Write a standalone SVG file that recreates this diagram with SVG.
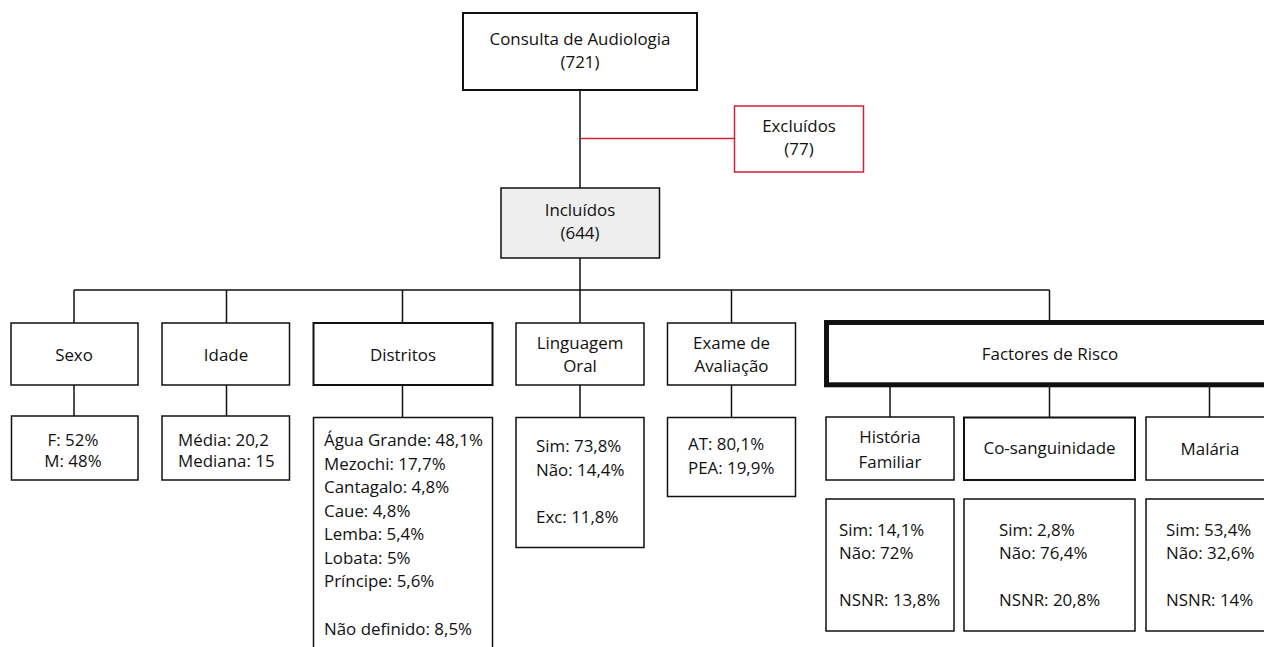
<svg xmlns="http://www.w3.org/2000/svg" width="1264" height="647" viewBox="0 0 1264 647">
<style>
text{font-family:"Open Sans","Noto Sans","Liberation Sans",sans-serif;font-size:16.9px;fill:#111}
.c{text-anchor:middle}
.b{fill:#fff;stroke:#111;stroke-width:1.5}
.b2{fill:#fff;stroke:#111;stroke-width:2}
.ln{stroke:#111;stroke-width:1.5;fill:none}
</style>
<rect width="1264" height="647" fill="#fff"/>
<g id="connectors">
<path class="ln" d="M580 90V188M580 258V290M74 290H1049.5M74 290V323M226.5 290V323M402.5 290V323M580 290V323M731.5 290V323M1049.5 290V322"/>
<path class="ln" d="M74 385V417M226.5 385V417M402.5 385V417M580 385V417M731.5 385V417"/>
<path class="ln" d="M890 386V417M1049.5 386V417M1209.5 386V417"/>
<path d="M580 138.5H734.5" stroke="#d0213a" stroke-width="1.5" fill="none"/>
</g>
<g id="consulta"><rect class="b2" x="463" y="13" width="234" height="77"/>
<text class="c" x="580" y="44.5">Consulta de Audiologia</text><text class="c" x="580" y="67.5">(721)</text></g>
<g id="excluidos"><rect x="734.5" y="106" width="129" height="66" fill="#fff" stroke="#d0213a" stroke-width="1.5"/>
<text class="c" x="799" y="132">Excluídos</text><text class="c" x="799" y="155">(77)</text></g>
<g id="incluidos"><rect x="501" y="188" width="158.5" height="70" fill="#eeeeee" stroke="#111" stroke-width="1.5"/>
<text class="c" x="580" y="216">Incluídos</text><text class="c" x="580" y="239">(644)</text></g>
<g id="sexo"><rect class="b" x="11" y="323" width="127" height="62"/><text class="c" x="74" y="361">Sexo</text></g>
<g id="idade"><rect class="b" x="162" y="323" width="127.5" height="62"/><text class="c" x="226" y="361">Idade</text></g>
<g id="distritos"><rect class="b2" x="313.5" y="323" width="179" height="62"/><text class="c" x="403" y="361">Distritos</text></g>
<g id="linguagem"><rect class="b" x="516" y="323" width="128" height="62"/><text class="c" x="580" y="349">Linguagem</text><text class="c" x="580" y="372">Oral</text></g>
<g id="exame"><rect class="b" x="667.5" y="323" width="128" height="62"/><text class="c" x="731.5" y="349">Exame de</text><text class="c" x="731.5" y="372">Avaliação</text></g>
<g id="factores"><rect x="826.5" y="322.5" width="450" height="62.3" fill="#fff" stroke="#111" stroke-width="5"/><text class="c" x="1050" y="360">Factores de Risco</text></g>
<g id="sexo-res"><rect class="b" x="11.5" y="416" width="126.5" height="64"/><text class="c" x="73" y="446">F: 52%</text><text class="c" x="73" y="467">M: 48%</text></g>
<g id="idade-res"><rect class="b" x="162" y="416" width="127.5" height="64"/><text x="178" y="446">Média: 20,2</text><text x="178" y="467">Mediana: 15</text></g>
<g id="distritos-res"><rect class="b" x="313.5" y="417.5" width="179" height="240"/>
<text x="324" y="446">Água Grande: 48,1%</text><text x="324" y="469.5">Mezochi: 17,7%</text><text x="324" y="493">Cantagalo: 4,8%</text><text x="324" y="516.5">Caue: 4,8%</text><text x="324" y="540">Lemba: 5,4%</text><text x="324" y="563.5">Lobata: 5%</text><text x="324" y="586.5">Príncipe: 5,6%</text><text x="324" y="635">Não definido: 8,5%</text></g>
<g id="linguagem-res"><rect class="b" x="516" y="417.5" width="128" height="130"/>
<text x="536" y="452">Sim: 73,8%</text><text x="536" y="475.5">Não: 14,4%</text><text x="536" y="522.5">Exc: 11,8%</text></g>
<g id="exame-res"><rect class="b" x="667.5" y="417.5" width="128" height="79"/>
<text x="688" y="449.5">AT: 80,1%</text><text x="688" y="473.5">PEA: 19,9%</text></g>
<g id="historia"><rect class="b" x="826" y="417" width="128" height="63"/><text class="c" x="890" y="442.5">História</text><text class="c" x="890" y="467.5">Familiar</text></g>
<g id="cosang"><rect class="b2" x="964" y="417.5" width="171" height="62.5"/><text class="c" x="1049.5" y="453.5">Co-sanguinidade</text></g>
<g id="malaria"><rect class="b" x="1146" y="417" width="130" height="63"/><text class="c" x="1210" y="454.5">Malária</text></g>
<g id="historia-res"><rect class="b" x="826" y="499" width="128" height="132"/>
<text x="839" y="535.5">Sim: 14,1%</text><text x="839" y="558.5">Não: 72%</text><text x="839" y="606">NSNR: 13,8%</text></g>
<g id="cosang-res"><rect class="b" x="964" y="499" width="171" height="132"/>
<text x="999" y="535.5">Sim: 2,8%</text><text x="999" y="558.5">Não: 76,4%</text><text x="999" y="606">NSNR: 20,8%</text></g>
<g id="malaria-res"><rect class="b" x="1146" y="499" width="130" height="132"/>
<text x="1166" y="535.5">Sim: 53,4%</text><text x="1166" y="558.5">Não: 32,6%</text><text x="1166" y="606">NSNR: 14%</text></g>
</svg>
